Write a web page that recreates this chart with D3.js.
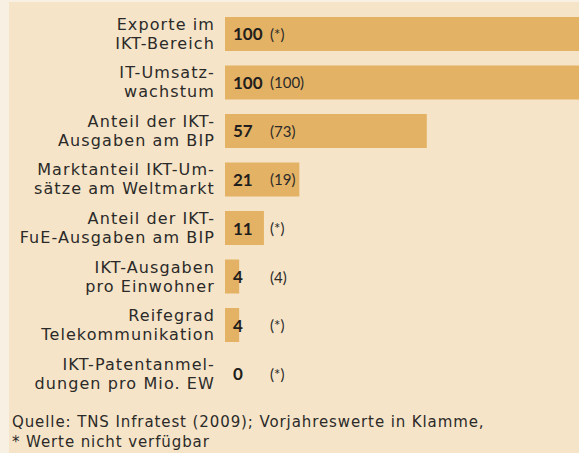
<!DOCTYPE html>
<html><head><meta charset="utf-8">
<script src="https://cdn.jsdelivr.net/npm/d3@7"></script>
<style>
html,body{margin:0;padding:0;background:#f8f0e2;}
svg{display:block;}
</style></head>
<body>
<script>
const categories = [
  ["Exporte im", "IKT-Bereich"],
  ["IT-Umsatz-", "wachstum"],
  ["Anteil der IKT-", "Ausgaben am BIP"],
  ["Marktanteil IKT-Um-", "sätze am Weltmarkt"],
  ["Anteil der IKT-", "FuE-Ausgaben am BIP"],
  ["IKT-Ausgaben", "pro Einwohner"],
  ["Reifegrad", "Telekommunikation"],
  ["IKT-Patentanmel-", "dungen pro Mio. EW"]
];
const values = [100, 100, 57, 21, 11, 4, 4, 0];
const previousValues = [null, 100, 73, 19, null, 4, null, null];
const footnotes = ["Quelle: TNS Infratest (2009); Vorjahreswerte in Klamme,", "* Werte nicht verfügbar"];

const W = 579, H = 453;
const svg = d3.select("body").append("svg").attr("width", W).attr("height", H);
svg.append("rect").attr("x", 0).attr("y", 0).attr("width", W).attr("height", H).attr("fill", "#f8f0e2");
svg.append("rect").attr("x", 9).attr("y", 2).attr("width", W - 9).attr("height", H - 2).attr("fill", "#f5e4c8");

const idx = d3.range(categories.length);
const x = d3.scaleLinear().domain([0, 100]).range([225, 579]);
const y = d3.scaleBand().domain(idx).range([17, 390.5]).paddingInner(0.299).paddingOuter(0);

const font = "'DejaVu Sans', sans-serif";
const numFont = "Lato, sans-serif";
const textColor = "#2b2a28";

svg.selectAll("rect.bar").data(idx).join("rect").attr("class", "bar")
  .attr("x", x(0)).attr("y", i => y(i))
  .attr("width", i => x(values[i]) - x(0)).attr("height", y.bandwidth())
  .attr("fill", "#e4b264");

const lab = svg.selectAll("g.lab").data(idx).join("g").attr("class", "lab");
lab.each(function(i) {
  const c = y(i) + y.bandwidth() / 2;
  const g = d3.select(this);
  categories[i].forEach((line, k) => {
    g.append("text").attr("x", 215).attr("y", c + (k === 0 ? -9.5 : 9.5))
      .attr("text-anchor", "end").attr("dominant-baseline", "central")
      .attr("font-family", font).attr("font-size", 16).attr("letter-spacing", 1.1)
      .attr("fill", textColor).text(line);
  });
  g.append("text").attr("x", x(0) + 8).attr("y", c)
    .attr("dominant-baseline", "central")
    .attr("font-family", numFont).attr("font-size", 17).attr("font-weight", "bold")
    .attr("fill", "#1f1e1c").text(values[i]);
  g.append("text").attr("x", 270).attr("y", c)
    .attr("dominant-baseline", "central")
    .attr("font-family", numFont).attr("font-size", 15)
    .attr("fill", textColor).text(previousValues[i] === null ? "(*)" : "(" + previousValues[i] + ")");
});

svg.selectAll("text.foot").data(footnotes).join("text").attr("class", "foot")
  .attr("x", 12).attr("y", (d, k) => 422 + k * 20)
  .attr("dominant-baseline", "central")
  .attr("font-family", font).attr("font-size", 15).attr("letter-spacing", 0.9)
  .attr("fill", textColor).text(d => d);
</script>
</body></html>
